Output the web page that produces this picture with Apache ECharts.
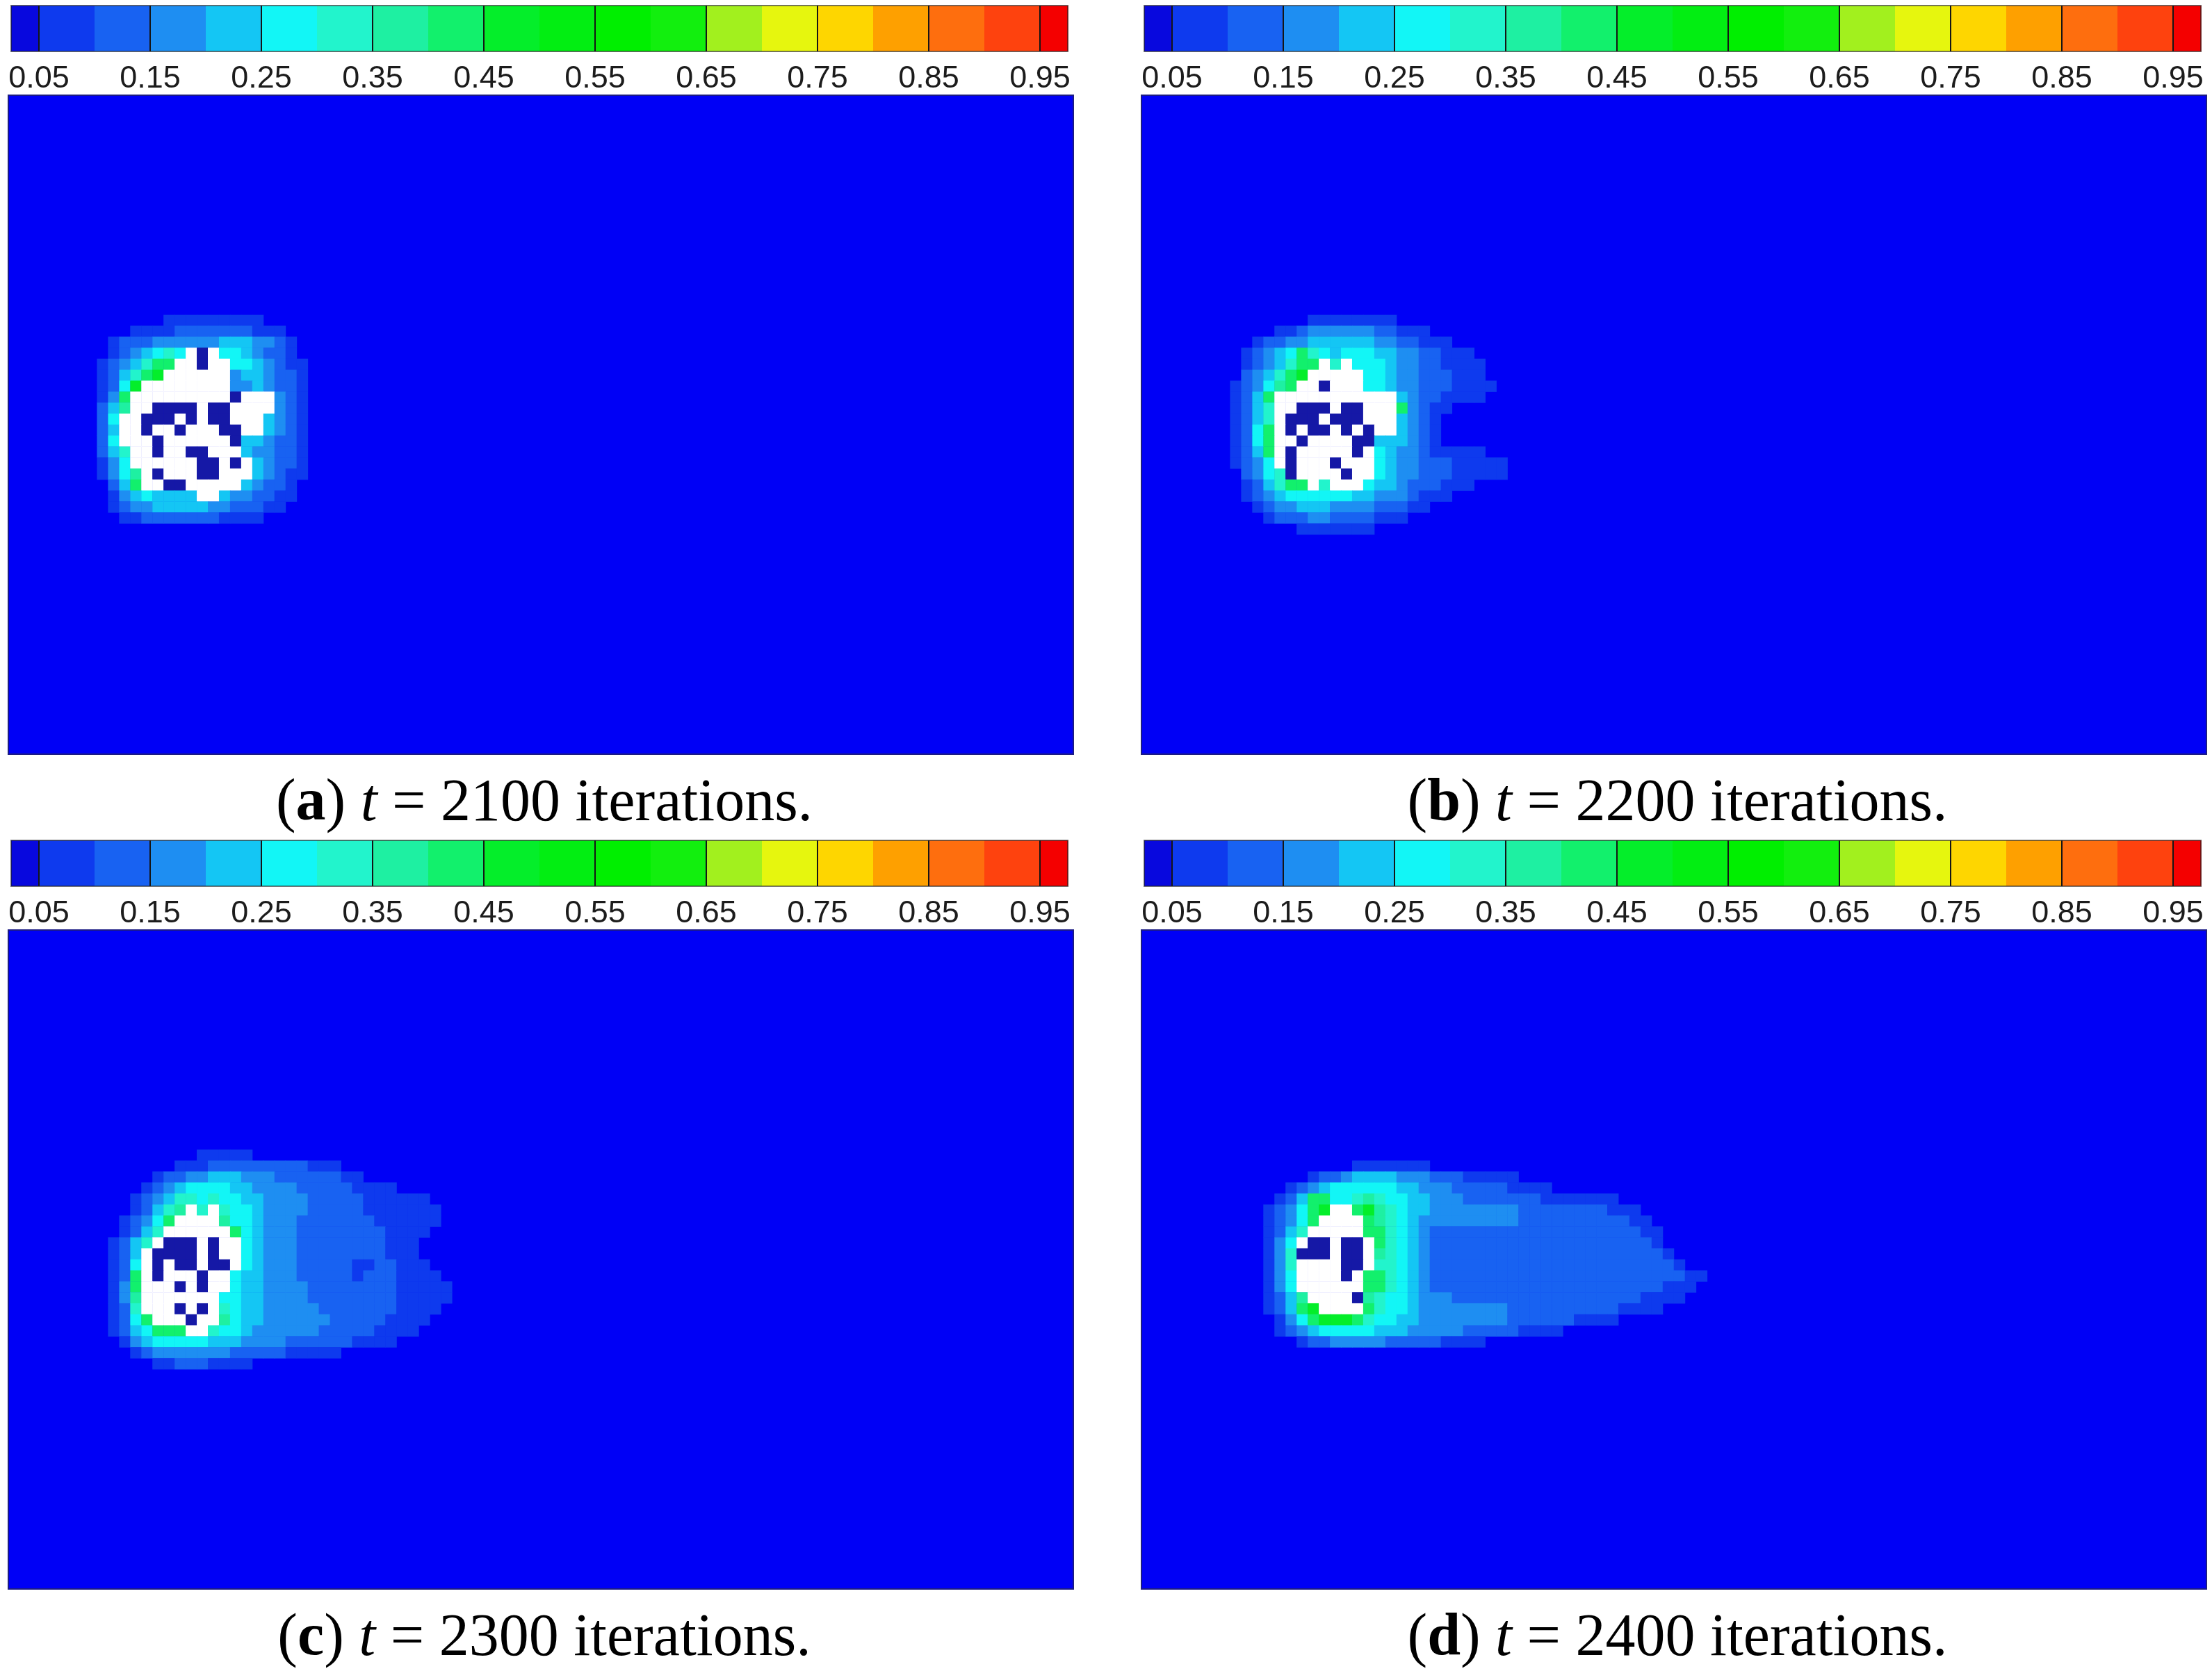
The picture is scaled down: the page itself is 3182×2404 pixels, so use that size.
<!DOCTYPE html>
<html>
<head>
<meta charset="utf-8">
<title>concentration plume</title>
<script src="https://cdn.jsdelivr.net/npm/echarts/dist/echarts.min.js"></script>
<style>
html,body{margin:0;padding:0;background:#fff;}
#main{width:3182px;height:2404px;}
</style>
</head>
<body>
<div id="main"></div>
<script>
// contour levels of the colour bar (tecplot style, 0.05 steps)
var levels = [0.05, 0.1, 0.15, 0.2, 0.25, 0.3, 0.35, 0.4, 0.45, 0.5, 0.55, 0.6, 0.65, 0.7, 0.75, 0.8, 0.85, 0.9, 0.95];
var barEnds = [0.025, 0.975];
var levelColors = ['#0808de', '#0e3aee', '#1862f2', '#1e8ef2', '#14c6f4', '#12f6f6', '#22f4cc', '#1ef0a2', '#12f06c', '#04ee2a',
                   '#02ee12', '#00ef00', '#12ef0e', '#a2f01e', '#e6f60e', '#fed600', '#fea000', '#fe6e0e', '#fe420e', '#f40000'];
var tickValues = [0.05, 0.15, 0.25, 0.35, 0.45, 0.55, 0.65, 0.75, 0.85, 0.95];
var panelTags = ['a', 'b', 'c', 'd'];
var iterations = [2100, 2200, 2300, 2400];

// lattice of the field: 96 x 60 cells, every row string starts at fieldOrigin
// '.' = below 0.05, '1'..'9' = band k (0.05k..0.05k+0.05), 'W' = solid, 'N' = dark pore
var fieldSize = [96, 60];
var fieldOrigin = [[7, 20], [7, 20], [9, 20], [11, 21]];
var fieldA = [
    '.......111111111',
    '....11112222222111',
    '..12223333334443321',
    '..1234565WNW5543221',
    '.1234688WWNWW5543211',
    '.124689WWWWWW3443221',
    '.1259WWWWWWWW3343221',
    '.138WWWWWWWWWNWWW321',
    '.247WWNNNNWNNWWWW321',
    '.25WWNNNWNWNNWWW4321',
    '.24WWNWWNWWWNNWW4321',
    '.25WWWNWWWWWWN443221',
    '.246WWNWWNNWWW433221',
    '.135WWWWWWNNWNW43221',
    '.1357WNWWWNNWWW43211',
    '..248WWNNWWWWW43221',
    '..13454444WW4332211',
    '..1233444443322211',
    '...1122222221111'
];
var fieldB = [
    '........11111111',
    '.....11233333322111',
    '...122334444443322111',
    '..123458654555443322111',
    '..1234688W6W555433221111',
    '..234689WWWWW55433222111',
    '.123578WWNWWW554332221111',
    '.1248WWWWWWWWWWW43221111',
    '.1246WWNNNWNNWWW83211',
    '.1246WNNNWNNNWWW4321',
    '.1258WNWNNWNWNWW4321',
    '.1258WWNWWWWNN444321',
    '.1248WNWWWWWNW5433211111',
    '.1235WNWWWNWWW543322211111',
    '..2356NWWWWNWW543322211111',
    '..124688W6WWW5443222111',
    '..1234555555443332111',
    '...1233444333322211',
    '....1222332222111',
    '.......1111111'
];
var fieldC = [
    '........11111',
    '......111222222222111',
    '....1223344433322222211',
    '...12345555443333222221111',
    '..123466565544333322222111111',
    '..12467W6W65543333222221111111',
    '.12358WWWW75543332222222111111',
    '.1246WWWWWW854333222222221111',
    '1246WNNNWNWW5433322222222111',
    '124WNNNNWNWW5433322222222111',
    '125WNWNNWNNW54333222221122111',
    '128WNWWWNWW5443332222212221111',
    '138WWWNWNWW54433332222222211111',
    '137WWWWWWW554433332222222211111',
    '126WWWNWNW65443333322222221111',
    '1258WWWNWW7544333333222221111',
    '1245888WW6554333333222221111',
    '.1345555544433332222221111',
    '..1233333332222211111',
    '....112221111'
];
var fieldD = [
    '........1111111',
    '....1223444433322211111',
    '..123455555544333222221111',
    '.1248855676554433322222221111111',
    '123589WW89765443333333322222222111',
    '12358WWWW87654333333333222222222211',
    '1246WWWWW886543222222222222222222211',
    '135WNNWNNW86543222222222222222222221',
    '136NNNWNNW765432222222222222222222221',
    '136WWWWNNW6654322222222222222222222221',
    '135WWWWNW8865432222222222222222222222211',
    '135WWWWWW886543222222222222222222222111',
    '1247WWWWN76554333222222222222222221111',
    '12489WWWW865543333333322222222221111',
    '.1358999865544333333332222221111',
    '.12345555544433333222221111',
    '...12233333222221111'
];
var fields = [fieldA, fieldB, fieldC, fieldD];

(function(dom){
    var plot = {
        config: {
            left: [12, 1642, 12, 1642],
            top: [137, 137, 1338, 1338],
            width: 1532,
            height: 948,
            fieldBg: '#0000f6',
            solid: '#ffffff',
            pore: '#1518a6'
        },
        init: function(){
            var myChart = echarts.init(dom.getElementById('main'));
            myChart.setOption(this.buildOption());
        },
        //code letter -> value in the middle of its band
        cellValue: function(ch){
            if(ch === 'W') return -1;
            if(ch === 'N') return -2;
            var k = parseInt(ch, 10);
            return (levels[k - 1] + levels[k]) / 2;
        },
        heatData: function(i){
            var rows = fields[i], out = [];
            for(var r = 0; r < rows.length; r++){
                for(var c = 0; c < rows[r].length; c++){
                    var ch = rows[r].charAt(c);
                    if(ch === '.') continue;
                    out.push([fieldOrigin[i][0] + c, fieldOrigin[i][1] + r, this.cellValue(ch)]);
                }
            }
            return out;
        },
        captionStyle: function(weight, style){
            return {fontFamily: 'Liberation Serif', fontSize: 86, lineHeight: 90, color: '#000',
                fontWeight: weight, fontStyle: style};
        },
        buildOption: function(){
            var cfg = this.config;
            var bounds = [barEnds[0]].concat(levels).concat([barEnds[1]]);
            var pieces = [], barCells = [], k;
            for(k = 0; k < levelColors.length; k++){
                pieces.push({gte: k === 0 ? 0 : bounds[k], lt: k === levelColors.length - 1 ? 1.01 : bounds[k + 1], color: levelColors[k]});
                barCells.push([bounds[k], bounds[k + 1], k]);
            }
            pieces.push({value: -1, color: cfg.solid});
            pieces.push({value: -2, color: cfg.pore});

            var colNames = [], rowNames = [];
            for(k = 0; k < fieldSize[0]; k++) colNames.push(String(k));
            for(k = 0; k < fieldSize[1]; k++) rowNames.push(String(k));

            var grid = [], xAxis = [], yAxis = [], series = [], title = [];
            var i;
            //contour fields
            for(i = 0; i < 4; i++){
                grid.push({left: cfg.left[i], top: cfg.top[i], width: cfg.width, height: cfg.height,
                    show: true, backgroundColor: cfg.fieldBg, borderColor: '#1c1c84', borderWidth: 2});
                xAxis.push({gridIndex: i, type: 'category', data: colNames, show: false});
                yAxis.push({gridIndex: i, type: 'category', data: rowNames, inverse: true, show: false});
                series.push({type: 'heatmap', xAxisIndex: i, yAxisIndex: i, data: this.heatData(i),
                    progressive: 0, silent: true, emphasis: {disabled: true}});
            }
            //colour bars above every field
            for(i = 0; i < 4; i++){
                grid.push({left: cfg.left[i] + 4, top: cfg.top[i] - 129, width: 1520, height: 66,
                    show: true, z: 10, backgroundColor: 'transparent', borderColor: 'rgba(30,30,30,0.6)', borderWidth: 2});
                xAxis.push({gridIndex: 4 + i, type: 'value', min: barEnds[0], max: barEnds[1],
                    axisLine: {show: false}, axisTick: {show: false}, splitLine: {show: false},
                    axisLabel: {customValues: tickValues, hideOverlap: false, margin: 17,
                        fontFamily: 'Liberation Sans', fontSize: 45, color: '#1c1c1c',
                        formatter: function(v){ return v.toFixed(2); }}});
                yAxis.push({gridIndex: 4 + i, type: 'value', min: 0, max: 1, show: false});
                series.push({type: 'custom', xAxisIndex: 4 + i, yAxisIndex: 4 + i, data: barCells, silent: true,
                    renderItem: function(params, api){
                        var p0 = api.coord([api.value(0), 1]);
                        var p1 = api.coord([api.value(1), 0]);
                        return {type: 'rect', shape: {x: p0[0], y: p0[1], width: p1[0] - p0[0] + 0.6, height: p1[1] - p0[1]},
                            style: {fill: levelColors[api.value(2)]}};
                    }});
                series.push({type: 'custom', xAxisIndex: 4 + i, yAxisIndex: 4 + i, silent: true,
                    data: tickValues.map(function(v){ return [v, 0]; }),
                    renderItem: function(params, api){
                        var a = api.coord([api.value(0), 0]);
                        var b = api.coord([api.value(0), 1]);
                        return {type: 'line', shape: {x1: a[0], y1: a[1], x2: b[0], y2: b[1]},
                            style: {stroke: '#151515', lineWidth: 2}};
                    }});
                //caption under the field
                title.push({
                    text: '{n|(}{b|' + panelTags[i] + '}{n|) }{i|t}{n| = ' + iterations[i] + ' iterations.}',
                    left: cfg.left[i] + cfg.width / 2, top: cfg.top[i] + 970, textAlign: 'center',
                    textStyle: {fontWeight: 'normal', rich: {
                        n: this.captionStyle('normal', 'normal'),
                        b: this.captionStyle('bold', 'normal'),
                        i: this.captionStyle('normal', 'italic')
                    }}
                });
            }
            return {
                backgroundColor: '#ffffff',
                animation: false,
                title: title,
                grid: grid,
                xAxis: xAxis,
                yAxis: yAxis,
                visualMap: {type: 'piecewise', show: false, dimension: 2, seriesIndex: [0, 1, 2, 3], pieces: pieces},
                series: series
            };
        }
    };
    plot.init();
})(document);
</script>
</body>
</html>
